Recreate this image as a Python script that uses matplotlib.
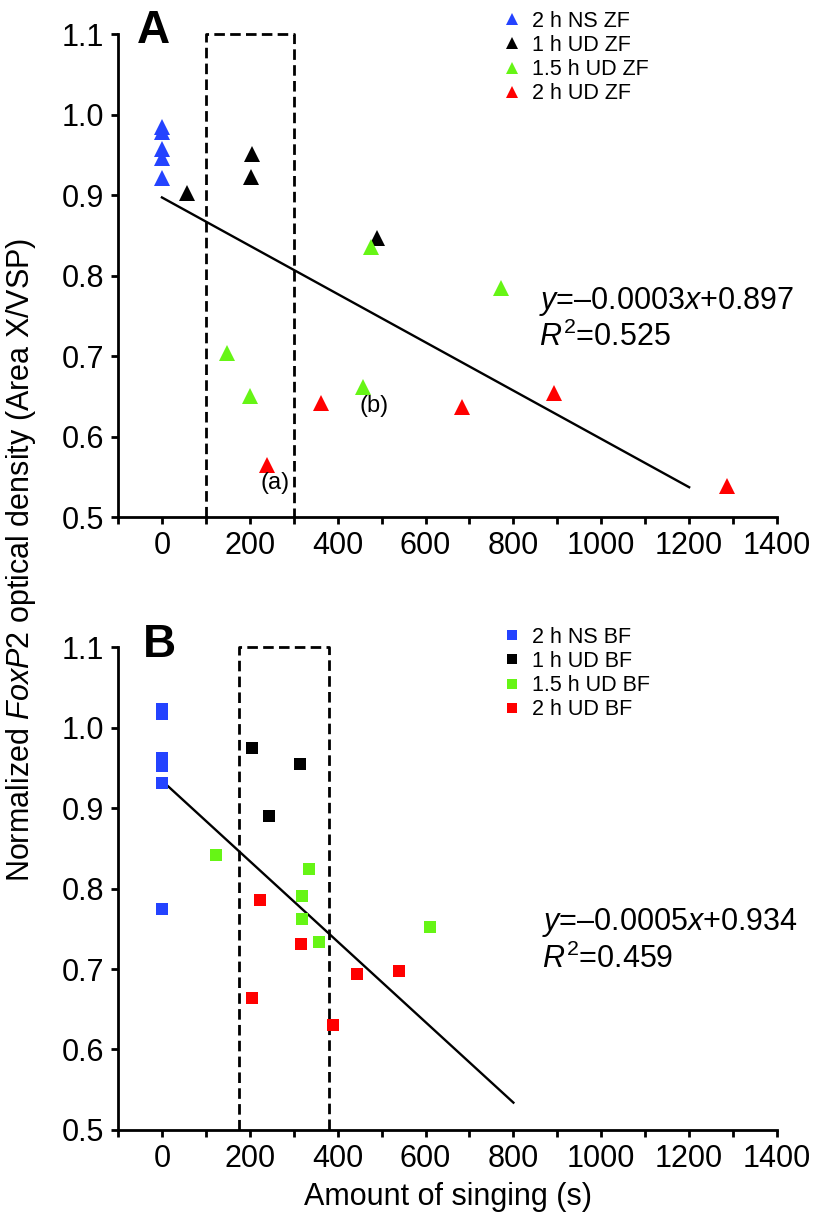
import matplotlib
matplotlib.use('Agg')
import matplotlib.pyplot as plt
import numpy as np
from matplotlib.lines import Line2D

plt.rcParams['font.family'] = ['Liberation Sans', 'DejaVu Sans']
plt.rcParams['mathtext.fontset'] = 'custom'
plt.rcParams['mathtext.rm'] = 'Liberation Sans'
plt.rcParams['mathtext.it'] = 'Liberation Sans:italic'
plt.rcParams['mathtext.bf'] = 'Liberation Sans:bold'

# panel A, zebra finch (triangles)
zf_labels = ['2 h NS ZF', '1 h UD ZF', '1.5 h UD ZF', '2 h UD ZF']
zf_x = [[0, 0, 0, 0, 0],
        [57, 205, 202, 489],
        [475, 772, 148, 200, 457],
        [240, 362, 684, 892, 1285]]
zf_y = [[0.985, 0.978, 0.957, 0.946, 0.921],
        [0.902, 0.951, 0.922, 0.846],
        [0.836, 0.785, 0.704, 0.650, 0.661],
        [0.564, 0.642, 0.637, 0.654, 0.539]]
zf_slope, zf_icpt, zf_r2 = -0.0003, 0.897, 0.525
zf_fit_x = [0, 1200]
zf_box = [100, 300]

# panel B, Bengalese finch (squares)
bf_labels = ['2 h NS BF', '1 h UD BF', '1.5 h UD BF', '2 h UD BF']
bf_x = [[0, 0, 0, 0, 0, 0],
        [204, 314, 244],
        [122, 335, 319, 318, 357, 609],
        [223, 316, 205, 389, 443, 539]]
bf_y = [[1.023, 1.017, 0.962, 0.952, 0.931, 0.774],
        [0.975, 0.955, 0.890],
        [0.842, 0.824, 0.791, 0.762, 0.733, 0.752],
        [0.786, 0.731, 0.664, 0.631, 0.694, 0.697]]
bf_slope, bf_icpt, bf_r2 = -0.0005, 0.934, 0.459
bf_fit_x = [0, 800]
bf_box = [175, 380]

colors = ['#2443ff', '#000000', '#66f515', '#ff0000']

fig = plt.figure(figsize=(8.2, 12.24), dpi=100)
axA = fig.add_axes([0.1439, 0.5776, 0.8037, 0.3946])
axB = fig.add_axes([0.1439, 0.0768, 0.8037, 0.3946])


def panel(ax, xs, ys, labels, marker, ms, slope, icpt, fit_x, box, r2,
          eq_x, eq_y, leg_y):
    for x, y, c, lab in zip(xs, ys, colors, labels):
        ax.plot(x, y, ls='none', marker=marker, ms=ms, color=c,
                markeredgewidth=0, label=lab, clip_on=False, zorder=3)
    fx = np.array(fit_x)
    ax.plot(fx, slope * fx + icpt, color='black', lw=1.7, zorder=2)
    ax.plot([box[0], box[0], box[1], box[1]], [0.5, 1.1, 1.1, 0.5],
            color='black', lw=2, ls=(0, (3.8, 1.9)), clip_on=False)
    ax.set_xlim(-100, 1400)
    ax.set_ylim(0.5, 1.1)
    ax.set_xticks(np.arange(0, 1401, 200))
    ax.set_xticks(np.arange(-100, 1401, 100), minor=True)
    ax.set_yticks(np.arange(0.5, 1.11, 0.1))
    ax.set_yticklabels(['%.1f' % v for v in np.arange(0.5, 1.11, 0.1)])
    for s in ['top', 'right']:
        ax.spines[s].set_visible(False)
    for s in ['left', 'bottom']:
        ax.spines[s].set_linewidth(2)
    ax.tick_params(which='both', direction='out', length=5, width=2,
                   labelsize=22, pad=5)
    sign = '\u2013' if slope < 0 else '+'
    ax.text(eq_x, eq_y, r'$y$=%s%.4f$x$+%.3f' % (sign, abs(slope), icpt),
            fontsize=22, va='baseline')
    ax.text(eq_x, eq_y - 0.047, r'$R^{\mathrm{2}}$=%.3f' % r2,
            fontsize=22, va='baseline')
    handles = [Line2D([], [], ls='none', marker=marker, ms=ms * 0.85,
                      color=c, markeredgewidth=0) for c in colors]
    fig.legend(handles, labels, loc='upper left',
               bbox_to_anchor=(0.6165, leg_y), frameon=False, fontsize=15.5,
               handlelength=0.6, handletextpad=0.65, labelspacing=0.15,
               borderpad=0, borderaxespad=0)


panel(axA, zf_x, zf_y, zf_labels, '^', 11, zf_slope, zf_icpt, zf_fit_x,
      zf_box, zf_r2, 859, 0.759, 0.9913)
panel(axB, bf_x, bf_y, bf_labels, 's', 8, bf_slope, bf_icpt, bf_fit_x,
      bf_box, bf_r2, 865, 0.748, 0.488)

axA.text(258, 0.542, '(a)', fontsize=17, ha='center', va='center')
axA.text(483, 0.638, '(b)', fontsize=17, ha='center', va='center')

axB.set_xlabel('Amount of singing (s)', fontsize=22, labelpad=6)

fig.text(137 / 820, 1 - 43 / 1224, 'A', fontsize=33, fontweight='bold')
fig.text(143 / 820, 1 - 657 / 1224, 'B', fontsize=33, fontweight='bold')

fig.text(0.026, 0.5425, r'Normalized $\mathit{FoxP2}$ optical density (Area X/VSP)',
         rotation=90, fontsize=22, ha='center', va='center')

fig.savefig('out.png', dpi=100)
